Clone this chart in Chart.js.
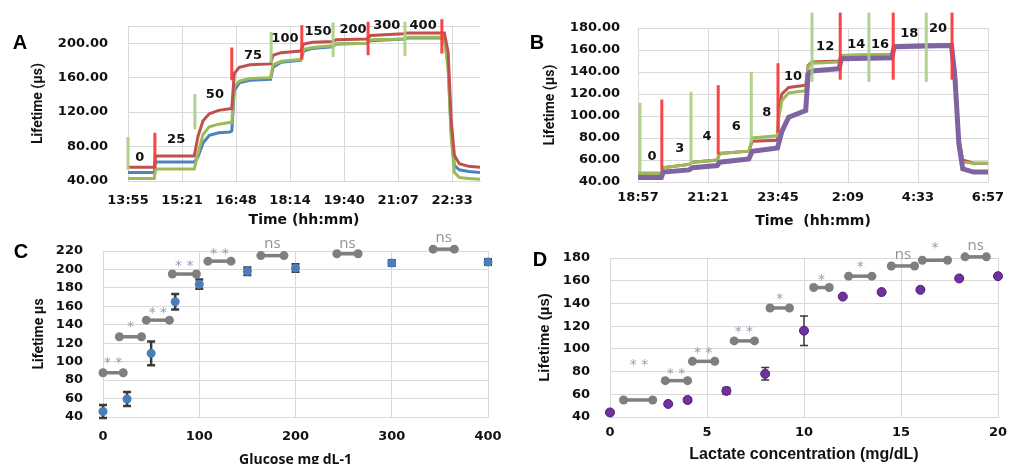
<!DOCTYPE html>
<html>
<head>
<meta charset="utf-8">
<script src="https://cdn.jsdelivr.net/npm/chart.js@4.4.0/dist/chart.umd.min.js"></script>
<style>
html, body { margin: 0; padding: 0; background: #fff; }
body { width: 1011px; height: 464px; position: relative; overflow: hidden; }
canvas { position: absolute; }
</style>
</head>
<body>
<canvas id="chartA" width="500" height="230" style="left:0;top:0;width:500px;height:230px"></canvas>
<canvas id="chartB" width="511" height="230" style="left:500px;top:0;width:511px;height:230px"></canvas>
<canvas id="chartC" width="512" height="234" style="left:0;top:230px;width:512px;height:234px"></canvas>
<canvas id="chartD" width="511" height="234" style="left:500px;top:230px;width:511px;height:234px"></canvas>
<script>
// ---- panel A : glucose run (minutes after 13:55) ----
const timeA  = [0, 42, 44, 106, 112, 120, 130, 145, 163, 166, 170, 178, 195, 228, 232, 245, 276, 281, 295, 327, 333, 382, 388, 441, 447, 506, 512, 517, 522, 530, 545, 563];
const redA   = [56, 56, 69, 69, 92, 110, 118, 122, 124, 124, 165, 172, 175, 176, 186, 189, 191, 199, 201, 202, 204, 205, 209, 211, 212, 212, 190, 110, 70, 60, 57, 56];
const greenA = [43, 43, 54, 54, 72, 94, 103, 106, 108, 108, 150, 156, 159, 160, 175, 179, 181, 193, 195, 197, 199, 200, 204, 205, 207, 207, 170, 90, 50, 44, 43, 42];
const blueA  = [50, 50, 62, 62, 68, 84, 93, 96, 97, 98, 145, 154, 157, 158, 172, 178, 180, 191, 194, 196, 199, 200, 203, 205, 206, 206, 175, 95, 58, 53, 51, 50];
const markA_t  = [0, 43, 107, 166, 229, 278, 328, 384, 443, 502];
const markA_lo = [53, 55, 100, 157, 177, 181, 184, 186, 185, 188];
const markA_hi = [91, 96, 141, 195, 213, 221, 224, 225, 225, 228];
const lblA_text = ['0', '25', '50', '75', '100', '150', '200', '300', '400'];
const lblA_t    = [19, 77, 139, 200, 251, 304, 360, 414, 472];
const lblA_v    = [67, 88, 140, 186, 205, 213, 216, 220, 220];
const ticksA_x  = [0, 86.4, 172.8, 259.2, 345.6, 432, 518.4];
const labelsA_x = ['13:55', '15:21', '16:48', '18:14', '19:40', '21:07', '22:33'];
const ticksA_y  = [40, 80, 120, 160, 200, 220];

// ---- panel B : lactate run (minutes after 18:57) ----
const timeB   = [0, 48, 52, 105, 112, 163, 168, 228, 235, 287, 290, 296, 310, 345, 350, 358, 414, 418, 522, 527, 645, 652, 660, 668, 690, 720];
const redB    = [48, 48, 53, 56, 58, 60, 66, 68, 77, 78, 108, 120, 126, 128, 146, 149, 150, 155, 156, 164, 165, 140, 80, 60, 57, 57];
const greenB  = [48, 48, 53, 56, 58, 60, 66, 68, 80, 82, 100, 114, 121, 123, 145, 148, 149, 155, 156, 164, 164, 140, 80, 58, 57, 57];
const purpleB = [44, 44, 49, 51, 53, 55, 58, 61, 68, 71, 76, 86, 99, 105, 138, 141, 143, 152, 153, 163, 164, 135, 75, 52, 49, 49];
const markB_t  = [4, 49, 109, 165, 233, 288, 358, 416, 475, 525, 593, 646];
const markB_lo = [49, 51, 57, 65, 76, 85, 131, 133, 131, 133, 131, 133];
const markB_hi = [112, 115, 122, 128, 140, 148, 194, 194, 194, 194, 194, 194];
const lblB_text = ['0', '3', '4', '6', '8', '10', '12', '14', '16', '18', '20'];
const lblB_t    = [29, 86, 142, 202, 265, 319, 385, 449, 498, 558, 617];
const lblB_v    = [63, 70, 81, 90, 103, 136, 163, 165, 165, 175, 179];
const ticksB_x  = [0, 144, 288, 432, 576, 720];
const labelsB_x = ['18:57', '21:21', '23:45', '2:09', '4:33', '6:57'];
const ticksB_y  = [40, 60, 80, 100, 120, 140, 160, 180];

// ---- panel C : glucose calibration ----
const glucose = [0, 25, 50, 75, 100, 150, 200, 300, 400];
const lifeC   = [46, 59.5, 109, 165, 184, 198, 201.5, 207, 208];
const errC    = [7, 7.5, 13, 8.5, 5, 4, 4, 3, 3];
const sigC_x1 = [0, 17, 45, 72, 109, 164, 243, 343];
const sigC_x2 = [21, 40, 69, 97, 133, 188, 265, 365];
const sigC_y  = [88, 127, 145, 195, 209, 215, 217, 222];
const sigC_lbl = ['* *', '*', '* *', '* *', '* *', 'ns', 'ns', 'ns'];
const sigC_ly  = [101, 140, 156, 207, 220, 228, 228, 234];
const ticksC_y = [40, 60, 80, 100, 120, 140, 160, 180, 200, 220];

// ---- panel D : lactate calibration ----
const lactate = [0, 3, 4, 6, 8, 10, 12, 14, 16, 18, 20];
const lifeD   = [44, 51.5, 55, 63, 78, 116, 146, 150, 152, 162, 164];
const errD    = [0, 0, 2, 3, 5.5, 13, 0, 0, 0, 0, 0];
const sigD_x1 = [0.7, 2.85, 4.25, 6.4, 8.25, 10.5, 12.3, 14.5, 16.1, 18.3];
const sigD_x2 = [2.2, 4.0, 5.4, 7.45, 9.25, 11.3, 13.5, 15.7, 17.4, 19.4];
const sigD_y  = [55, 72, 89, 107, 136, 154, 164, 173, 178, 181];
const sigD_lbl = ['* *', '* *', '* *', '* *', '*', '*', '*', 'ns', '*', 'ns'];
const sigD_lx  = [1.5, 3.4, 4.8, 6.9, 8.75, 10.9, 12.9, 15.1, 16.75, 18.85];
const sigD_ly  = [88, 80, 99, 117, 146, 163, 174, 183, 191, 191];
const ticksD_y = [40, 60, 80, 100, 120, 140, 160, 180];

const GRID = '#d9d9d9';
const INK = '#111';
const TICK_FONT = { family: '"DejaVu Sans", Verdana, sans-serif', size: 13, weight: 'bold' };
const RED_MARK = 'rgba(245, 60, 60, 0.95)';
const GREEN_MARK = 'rgba(170, 205, 130, 0.9)';

function fixSize(prop, val) {
  return function (s) {
    s[prop] = val;
    s.paddingLeft = 0; s.paddingRight = 0; s.paddingTop = 0; s.paddingBottom = 0;
  };
}

function useTicks(values) {
  return function (s) { s.ticks = values.map(v => ({ value: v })); };
}

function series(times, vals, color, width, order) {
  return {
    data: times.map((t, i) => ({ x: t, y: vals[i] })),
    borderColor: color, borderWidth: width, pointRadius: 0, tension: 0, order: order
  };
}

function marker(t, lo, hi, color) {
  return {
    data: [{ x: t, y: lo }, { x: t, y: hi }],
    borderColor: color, borderWidth: 3, pointRadius: 0, clip: false, order: 0
  };
}

function dumbbell(x1, x2, y) {
  return {
    type: 'line',
    data: [{ x: x1, y: y }, { x: x2, y: y }],
    borderColor: '#7f7f7f', borderWidth: 3.5,
    pointRadius: 4.5, pointBackgroundColor: '#7f7f7f', pointBorderWidth: 0,
    clip: false, order: 2
  };
}

function letter(ctx, text, x, y) {
  ctx.fillStyle = '#000';
  ctx.font = 'bold 20px "Liberation Sans", Arial, sans-serif';
  ctx.textAlign = 'center';
  ctx.textBaseline = 'middle';
  ctx.fillText(text, x, y);
}

function stepLabels(id, texts, ts, vs, panel, px, py) {
  return {
    id: id,
    afterDatasetsDraw(chart) {
      const ctx = chart.ctx, xs = chart.scales.x, ys = chart.scales.y;
      ctx.save();
      ctx.fillStyle = INK;
      ctx.font = 'bold 13px "DejaVu Sans", Verdana, sans-serif';
      ctx.textAlign = 'center';
      ctx.textBaseline = 'middle';
      texts.forEach((t, i) => ctx.fillText(t, xs.getPixelForValue(ts[i]), ys.getPixelForValue(vs[i])));
      letter(ctx, panel, px, py);
      ctx.restore();
    }
  };
}

function errorBars(id, xsArr, ysArr, errs, width, cap) {
  return {
    id: id,
    beforeDatasetsDraw(chart) {
      const ctx = chart.ctx, xs = chart.scales.x, ys = chart.scales.y;
      ctx.save();
      ctx.strokeStyle = '#3a3a3a';
      ctx.lineWidth = width;
      xsArr.forEach((v, i) => {
        if (!errs[i]) return;
        const x = xs.getPixelForValue(v);
        const y1 = ys.getPixelForValue(ysArr[i] - errs[i]);
        const y2 = ys.getPixelForValue(ysArr[i] + errs[i]);
        ctx.beginPath();
        ctx.moveTo(x, y1); ctx.lineTo(x, y2);
        ctx.moveTo(x - cap, y1); ctx.lineTo(x + cap, y1);
        ctx.moveTo(x - cap, y2); ctx.lineTo(x + cap, y2);
        ctx.stroke();
      });
      ctx.restore();
    }
  };
}

function sigLabels(id, texts, lx, ly, panel, px, py) {
  return {
    id: id,
    afterDatasetsDraw(chart) {
      const ctx = chart.ctx, xs = chart.scales.x, ys = chart.scales.y;
      ctx.save();
      ctx.textAlign = 'center';
      ctx.textBaseline = 'middle';
      texts.forEach((t, i) => {
        const x = xs.getPixelForValue(lx[i]);
        const y = ys.getPixelForValue(ly[i]);
        if (t === 'ns') {
          ctx.fillStyle = '#909090';
          ctx.font = '15px "Open Sans", sans-serif';
          ctx.fillText(t, x, y);
        } else {
          ctx.fillStyle = '#929db0';
          ctx.font = '14px "DejaVu Sans", sans-serif';
          ctx.fillText(t, x, y + 3);
        }
      });
      letter(ctx, panel, px, py);
      ctx.restore();
    }
  };
}

function baseOptions(pad, xCfg, yCfg) {
  return {
    responsive: false,
    animation: false,
    layout: { padding: pad },
    plugins: { legend: { display: false }, tooltip: { enabled: false } },
    scales: { x: xCfg, y: yCfg }
  };
}

// ---- A ----
new Chart(document.getElementById('chartA'), {
  type: 'line',
  data: {
    datasets: [
      ...markA_t.map((t, i) => marker(t, markA_lo[i], markA_hi[i], i % 2 === 0 ? GREEN_MARK : RED_MARK)),
      series(timeA, redA, '#c0504d', 3, 1),
      series(timeA, greenA, '#9bbb59', 3, 2),
      series(timeA, blueA, '#4f81bd', 3, 3)
    ]
  },
  options: baseOptions({ left: 0, right: 20, top: 26, bottom: 0 }, {
    type: 'linear', min: 0, max: 563,
    afterBuildTicks: useTicks(ticksA_x),
    afterFit: fixSize('height', 49),
    ticks: { callback: (v, i) => labelsA_x[i], font: TICK_FONT, color: INK, padding: 12, maxRotation: 0, autoSkip: false },
    grid: { color: GRID, drawTicks: false },
    border: { color: GRID },
    title: { display: true, text: 'Time (hh:mm)', color: INK, font: { family: '"DejaVu Sans", Verdana, sans-serif', size: 14, weight: 'bold' }, padding: { top: 0, bottom: 1 } }
  }, {
    type: 'linear', min: 40, max: 220,
    afterBuildTicks: useTicks(ticksA_y),
    afterFit: fixSize('width', 128),
    ticks: { callback: v => (v === 220 ? '' : v.toFixed(2)), font: TICK_FONT, color: INK, padding: 20, autoSkip: false },
    grid: { color: GRID, drawTicks: false },
    border: { color: GRID },
    title: { display: true, text: 'Lifetime (µs)', color: INK, font: { family: '"Liberation Sans Narrow", Roboto, sans-serif', size: 14, weight: 'bold' }, padding: { top: 30, bottom: 0 } }
  }),
  plugins: [stepLabels('lblA', lblA_text, lblA_t, lblA_v, 'A', 20, 43)]
});

// ---- B ----
new Chart(document.getElementById('chartB'), {
  type: 'line',
  data: {
    datasets: [
      ...markB_t.map((t, i) => marker(t, markB_lo[i], markB_hi[i], i % 2 === 0 ? GREEN_MARK : RED_MARK)),
      series(timeB, purpleB, '#8064a2', 5, 1),
      series(timeB, greenB, '#9bbb59', 3, 2),
      series(timeB, redB, '#c0504d', 3, 3)
    ]
  },
  options: baseOptions({ left: 0, right: 23, top: 28, bottom: 0 }, {
    type: 'linear', min: 0, max: 720,
    afterBuildTicks: useTicks(ticksB_x),
    afterFit: fixSize('height', 48),
    ticks: { callback: (v, i) => labelsB_x[i], font: TICK_FONT, color: INK, padding: 8, maxRotation: 0, autoSkip: false },
    grid: { color: GRID, drawTicks: false },
    border: { color: GRID },
    title: { display: true, text: 'Time  (hh:mm)', color: INK, font: { family: '"DejaVu Sans", Verdana, sans-serif', size: 14, weight: 'bold' }, padding: { top: 0, bottom: 0 } }
  }, {
    type: 'linear', min: 40, max: 180,
    afterBuildTicks: useTicks(ticksB_y),
    afterFit: fixSize('width', 138),
    ticks: { callback: v => v.toFixed(2), font: TICK_FONT, color: INK, padding: 18, autoSkip: false },
    grid: { color: GRID, drawTicks: false },
    border: { color: GRID },
    title: { display: true, text: 'Lifetime (µs)', color: INK, font: { family: '"Liberation Sans Narrow", Roboto, sans-serif', size: 14, weight: 'bold' }, padding: { top: 42, bottom: 0 } }
  }),
  plugins: [stepLabels('lblB', lblB_text, lblB_t, lblB_v, 'B', 37, 43)]
});

// ---- C ----
new Chart(document.getElementById('chartC'), {
  type: 'scatter',
  data: {
    datasets: [
      {
        data: glucose.map((g, i) => ({ x: g, y: lifeC[i] })),
        pointRadius: 4.5, pointBackgroundColor: '#4a7ebb', pointBorderWidth: 0, clip: false, order: 1
      },
      ...sigC_x1.map((x1, i) => dumbbell(x1, sigC_x2[i], sigC_y[i]))
    ]
  },
  options: baseOptions({ left: 0, right: 24, top: 21, bottom: 0 }, {
    type: 'linear', min: 0, max: 400,
    afterFit: fixSize('height', 47),
    ticks: { stepSize: 100, font: TICK_FONT, color: INK, padding: 12, maxRotation: 0 },
    grid: { color: GRID, drawTicks: false },
    border: { color: GRID },
    title: { display: true, text: 'Glucose mg dL-1', color: INK, font: { family: '"Open Sans", sans-serif', size: 14, weight: 'bold' }, padding: { top: 0, bottom: -4 } }
  }, {
    type: 'linear', min: 40, max: 220,
    afterBuildTicks: useTicks(ticksC_y),
    afterFit: fixSize('width', 103),
    ticks: { font: TICK_FONT, color: INK, padding: 20, autoSkip: false },
    grid: { color: GRID, drawTicks: false },
    border: { color: GRID },
    title: { display: true, text: 'Lifetime µs', color: INK, font: { family: '"Liberation Sans Narrow", Roboto, sans-serif', size: 14, weight: 'bold' }, padding: { top: 31, bottom: 0 } }
  }),
  plugins: [
    errorBars('errC', glucose, lifeC, errC, 2.5, 4),
    sigLabels('sigC', sigC_lbl, sigC_x1.map((x, i) => (x + sigC_x2[i]) / 2), sigC_ly, 'C', 21, 22)
  ]
});

// ---- D ----
new Chart(document.getElementById('chartD'), {
  type: 'scatter',
  data: {
    datasets: [
      {
        data: lactate.map((l, i) => ({ x: l, y: lifeD[i] })),
        pointRadius: 4.5, pointBackgroundColor: '#7030a0', pointBorderColor: '#4b1f6e', pointBorderWidth: 1, clip: false, order: 1
      },
      ...sigD_x1.map((x1, i) => dumbbell(x1, sigD_x2[i], sigD_y[i]))
    ]
  },
  options: baseOptions({ left: 0, right: 13, top: 28, bottom: 0 }, {
    type: 'linear', min: 0, max: 20,
    afterFit: fixSize('height', 47),
    ticks: { stepSize: 5, font: TICK_FONT, color: INK, padding: 8, maxRotation: 0 },
    grid: { color: GRID, drawTicks: false },
    border: { color: GRID },
    title: { display: true, text: 'Lactate concentration (mg/dL)', color: INK, font: { family: '"Liberation Sans", Arial, sans-serif', size: 16, weight: 'bold' }, padding: { top: 0, bottom: 0 } }
  }, {
    type: 'linear', min: 40, max: 180,
    afterBuildTicks: useTicks(ticksD_y),
    afterFit: fixSize('width', 110),
    ticks: { font: TICK_FONT, color: INK, padding: 20, autoSkip: false },
    grid: { color: GRID, drawTicks: false },
    border: { color: GRID },
    title: { display: true, text: 'Lifetime (µs)', color: INK, font: { family: '"Liberation Sans", Arial, sans-serif', size: 15, weight: 'bold' }, padding: { top: 36, bottom: 0 } }
  }),
  plugins: [
    errorBars('errD', lactate, lifeD, errD, 1.5, 4),
    sigLabels('sigD', sigD_lbl, sigD_lx, sigD_ly, 'D', 40, 30)
  ]
});
</script>
</body>
</html>
